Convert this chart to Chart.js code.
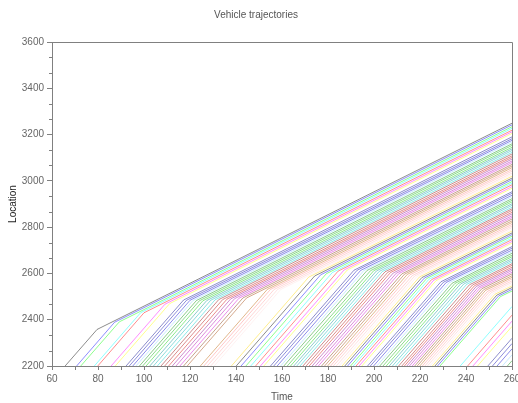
<!DOCTYPE html>
<html>
<head>
<meta charset="utf-8">
<script src="https://cdn.jsdelivr.net/npm/chart.js@4.4.1/dist/chart.umd.min.js"></script>
<style>
  html, body { margin: 0; padding: 0; background: #fff; }
  #myChart { display: block; }
</style>
</head>
<body>
<canvas id="myChart" width="518" height="403"></canvas>
<script>
// Datos (tiempo / posicion de cada vehiculo)
const entryLocation = 2200
const endTime = 260
const entryTimes = [
  65.7, 70.7, 72.5, 78.4, 79.9, 85.7, 87.5, 89.8, 92.2, 93.6,
  95.1, 96.5, 98.0, 99.4, 100.9, 102.5, 104.1, 105.8, 107.4, 109.0,
  110.7, 112.3, 113.9, 115.6, 117.2, 118.8, 124.5, 126.0, 127.5, 129.0,
  130.5, 138.0, 140.1, 142.2, 144.3, 146.4, 148.5, 150.6, 152.1, 153.5,
  155.0, 156.4, 157.9, 159.4, 160.8, 162.3, 163.7, 165.1, 166.4, 167.8,
  169.1, 170.5, 171.8, 173.1, 174.5, 175.8, 177.2, 178.5, 179.8, 181.1,
  182.3, 183.6, 184.8, 186.1, 187.3, 188.5, 189.8, 191.0, 192.2, 193.5,
  194.7, 195.9, 197.2, 198.4, 199.8, 201.2, 202.5, 203.9, 205.3, 206.6,
  208.0, 209.4, 210.7, 212.1, 213.2, 214.3, 215.4, 216.6, 217.7, 218.8,
  219.9, 221.0, 222.1, 223.2, 224.3, 225.4, 226.5, 227.6, 228.7,
  237.5, 240.7, 243.0, 245.0, 247.2, 249.5, 251.5, 253.5, 255.8, 258.0
]
// Punto donde cada vehiculo entra en la cola (solo los que llegan a ella)
const kneeTimes = [
  79.6, 87.2, 89.3, 98.5, 100.0, 109.1, 111.2, 114.1, 117.2, 118.5,
  120.0, 121.3, 122.8, 124.1, 125.6, 127.3, 129.0, 130.9, 132.5, 134.2,
  136.1, 137.7, 139.4, 141.3, 143.0, 144.6, 153.6, 155.0, 156.6, 158.1,
  159.5, 171.6, 174.2, 176.8, 179.3, 181.9, 184.4, 187.0, 188.4, 189.9,
  191.3, 192.7, 194.2, 195.6, 197.0, 198.5, 199.9, 201.1, 202.3, 203.6,
  204.8, 206.0, 207.2, 208.4, 209.7, 210.9, 212.1, 213.3, 214.5, 215.6,
  216.7, 217.7, 218.7, 219.8, 220.8, 221.9, 222.9, 223.9, 225.0, 226.0,
  227.0, 228.1, 229.1, 230.2, 231.4, 232.7, 234.0, 235.2, 236.5, 237.7,
  239.0, 240.3, 241.5, 242.8, 243.7, 244.5, 245.3, 246.1, 246.9, 247.7,
  248.5, 249.4, 250.2, 251.0, 251.8, 252.6, 253.4, 254.2, 255.0
]
const kneeLocations = [
  2358, 2389, 2391, 2430, 2430, 2467, 2470, 2477, 2485, 2484,
  2484, 2483, 2483, 2482, 2482, 2483, 2484, 2486, 2487, 2487,
  2489, 2490, 2491, 2493, 2494, 2494, 2531, 2531, 2531, 2531,
  2531, 2584, 2589, 2594, 2599, 2604, 2610, 2615, 2615, 2614,
  2614, 2614, 2613, 2613, 2613, 2612, 2612, 2611, 2609, 2608,
  2607, 2605, 2604, 2602, 2601, 2600, 2598, 2597, 2596, 2594,
  2591, 2589, 2587, 2585, 2582, 2580, 2578, 2575, 2573, 2571,
  2569, 2566, 2564, 2562, 2561, 2560, 2558, 2557, 2556, 2555,
  2554, 2553, 2551, 2550, 2547, 2544, 2540, 2537, 2534, 2530,
  2527, 2523, 2520, 2517, 2513, 2510, 2506, 2503, 2500
]
// Posicion de cada vehiculo en t = 260
const endLocations = [
  3249, 3242, 3234, 3227, 3219, 3212, 3205, 3197, 3190, 3182,
  3175, 3168, 3160, 3153, 3145, 3138, 3131, 3123, 3116, 3108,
  3101, 3094, 3086, 3079, 3071, 3064, 3057, 3049, 3042, 3034,
  3027, 3020, 3012, 3005, 2997, 2990, 2983, 2975, 2968, 2960,
  2953, 2946, 2938, 2931, 2923, 2916, 2909, 2901, 2894, 2886,
  2879, 2872, 2864, 2857, 2849, 2842, 2835, 2827, 2820, 2812,
  2805, 2798, 2790, 2783, 2775, 2768, 2761, 2753, 2746, 2738,
  2731, 2724, 2716, 2709, 2701, 2694, 2687, 2679, 2672, 2664,
  2657, 2650, 2642, 2635, 2627, 2620, 2613, 2605, 2598, 2590,
  2583, 2576, 2568, 2561, 2553, 2546, 2539, 2531, 2524,
  2457, 2420, 2394, 2371, 2346, 2320, 2297, 2274, 2248, 2223
]
const timeTicks = [60, 80, 100, 120, 140, 160, 180, 200, 220, 240, 260]
const locationTicks = [2200, 2400, 2600, 2800, 3000, 3200, 3400, 3600]

// Mapa de colores tipo Scilab (32 colores)
const scilabColors = [
  '0,0,0', '0,0,255', '0,255,0', '0,255,255', '255,0,0', '255,0,255', '255,255,0', '255,255,255',
  '0,0,143', '0,0,176', '0,0,209', '135,206,255', '0,143,0', '0,176,0', '0,209,0', '0,143,143',
  '0,176,176', '0,209,209', '143,0,0', '176,0,0', '209,0,0', '143,0,143', '176,0,176', '209,0,209',
  '128,48,0', '161,64,0', '191,96,0', '255,128,128', '255,161,161', '255,191,191', '255,224,224', '255,215,0'
]
const lineColor = i => `rgba(${scilabColors[i % scilabColors.length]}, 0.45)`

const datasets = entryTimes.map((t0, i) => {
  const points = [{ x: t0, y: entryLocation }]
  if (i < kneeTimes.length) points.push({ x: kneeTimes[i], y: kneeLocations[i] })
  points.push({ x: endTime, y: endLocations[i] })
  return { data: points, borderColor: lineColor(i), borderWidth: 1, pointRadius: 0, tension: 0 }
})

const axisGray = '#808080'

// Marco superior/derecho y subdivisiones del eje y
const frameAndMinor = {
  id: 'frameAndMinor',
  afterDraw(chart) {
    const { ctx, chartArea: a, scales: { y } } = chart
    ctx.save()
    ctx.strokeStyle = axisGray
    ctx.lineWidth = 1
    ctx.beginPath()
    ctx.moveTo(a.left, a.top + 0.5)
    ctx.lineTo(a.right + 0.5, a.top + 0.5)
    ctx.lineTo(a.right + 0.5, a.bottom)
    for (let k = 0; k < locationTicks.length - 1; k++) {
      const step = (locationTicks[k + 1] - locationTicks[k]) / 3
      for (let m = 1; m < 3; m++) {
        const py = Math.round(y.getPixelForValue(locationTicks[k] + m * step)) + 0.5
        ctx.moveTo(a.left - 3, py)
        ctx.lineTo(a.left, py)
      }
    }
    ctx.stroke()
    ctx.restore()
  }
}

Chart.defaults.font.family = '"Liberation Sans", Arial, sans-serif'
Chart.defaults.font.size = 10

const ctx = document.getElementById('myChart')
new Chart(ctx, {
  type: 'line',
  data: { datasets },
  options: {
    responsive: false,
    animation: false,
    devicePixelRatio: 1,
    layout: { padding: { left: 0, right: 6, top: 0, bottom: 0 } },
    plugins: {
      legend: { display: false },
      tooltip: { enabled: false },
      title: {
        display: true,
        text: 'Vehicle trajectories',
        color: '#555',
        font: { size: 10, weight: 'normal' },
        padding: { top: 9, bottom: 21 }
      }
    },
    scales: {
      x: {
        type: 'linear',
        min: 60,
        max: 260,
        afterBuildTicks: scale => {
          const ticks = []
          timeTicks.forEach((v, k) => {
            ticks.push({ value: v })
            if (k < timeTicks.length - 1) ticks.push({ value: (v + timeTicks[k + 1]) / 2 })
          })
          scale.ticks = ticks
        },
        afterFit: scale => {
          scale.height = 37
          scale.paddingLeft = 0
          scale.paddingRight = 0
        },
        ticks: {
          autoSkip: false,
          maxRotation: 0,
          padding: 3,
          color: '#666',
          callback: v => timeTicks.includes(v) ? String(v) : ''
        },
        grid: { drawOnChartArea: false, tickLength: 4, tickColor: axisGray },
        border: { color: axisGray },
        title: { display: true, text: 'Time', color: '#555', padding: { top: 0, bottom: 0 } }
      },
      y: {
        type: 'linear',
        min: 2200,
        max: 3600,
        afterBuildTicks: scale => { scale.ticks = locationTicks.map(v => ({ value: v })) },
        afterFit: scale => {
          scale.width = 52
          scale.paddingTop = 0
          scale.paddingBottom = 0
        },
        ticks: { padding: 3, color: '#666', callback: v => String(v) },
        grid: { drawOnChartArea: false, tickLength: 5, tickColor: axisGray },
        border: { color: axisGray },
        title: { display: true, text: 'Location', color: '#222', padding: { top: 7, bottom: 0 } }
      }
    }
  },
  plugins: [frameAndMinor]
})
</script>
</body>
</html>
